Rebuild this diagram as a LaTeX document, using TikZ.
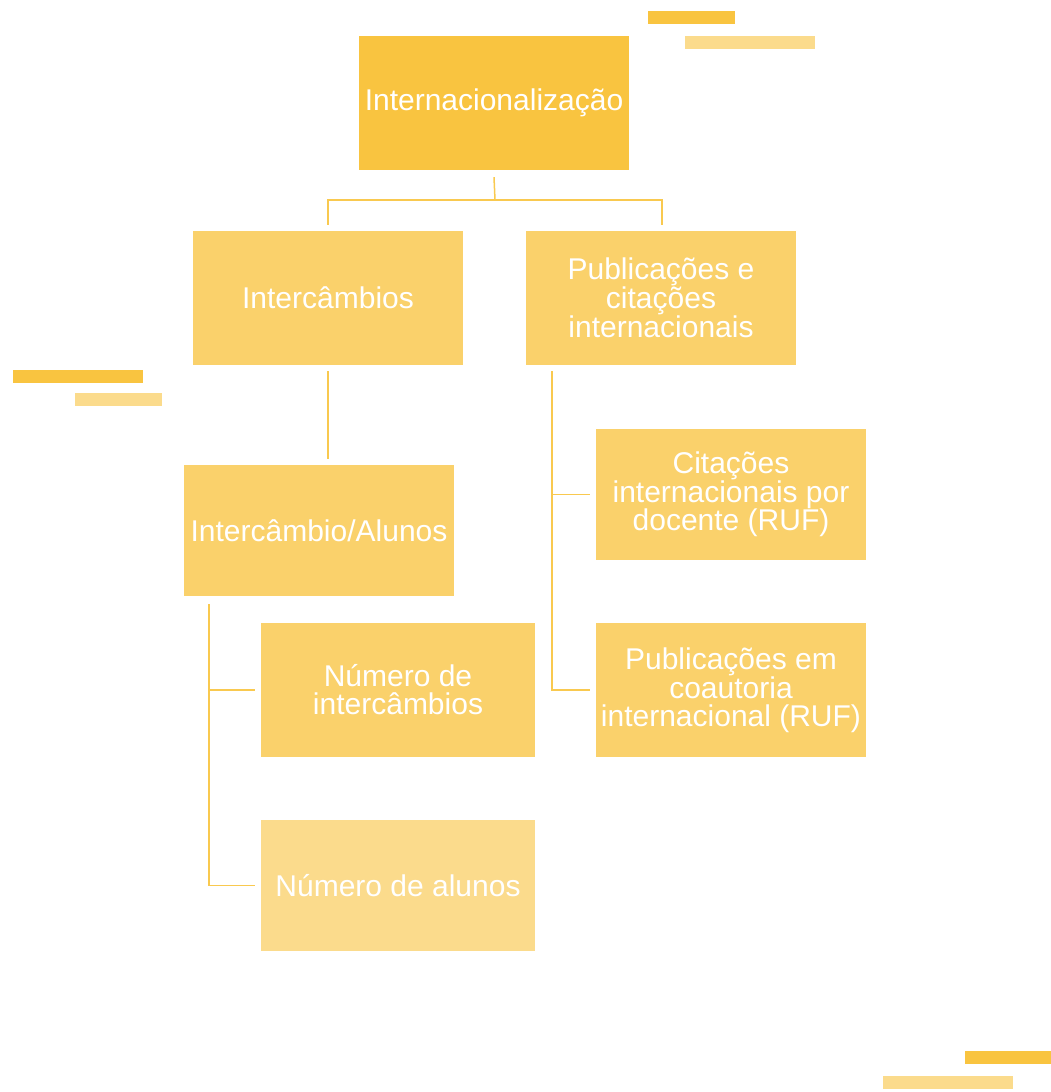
\documentclass[tikz,border=0pt]{standalone}
\usepackage{fontspec}
\setmainfont{Liberation Sans}
\definecolor{cRoot}{HTML}{F9C440}
\definecolor{cMid}{HTML}{FAD16B}
\definecolor{cLight}{HTML}{FBDB8C}
\definecolor{cLine}{HTML}{F9C94F}
\begin{document}
\begin{tikzpicture}[x=1pt,y=-1pt,
  box/.style={rectangle, inner sep=0pt, minimum width=270pt, minimum height=134pt,
    text=white, align=center, font=\fontsize{30}{28}\selectfont, fill=cMid},
  conn/.style={draw=cLine, line width=1.5pt},
  bardark/.style={fill=cRoot},
  barlight/.style={fill=cLight}]
\useasboundingbox (0,0) rectangle (1051,1092);
% decorative bars
\fill[bardark] (648,11) rectangle (735,24);
\fill[barlight] (685,36) rectangle (815,49);
\fill[bardark] (13,370) rectangle (143,383);
\fill[barlight] (75,393) rectangle (162,406);
\fill[bardark] (965,1051) rectangle (1051,1064);
\fill[barlight] (883,1076) rectangle (1013,1089);
% boxes
\node[box, fill=cRoot] (root) at (494,103) {Internacionaliza\c{c}\~ao};
\node[box] (a) at (328,298) {Interc\^ambios};
\node[box] (b) at (661,298) {Publica\c{c}\~oes e\\cita\c{c}\~oes\\internacionais};
\node[box, minimum height=131pt] (c) at (319,530.5) {Interc\^ambio/Alunos};
\node[box, minimum height=131pt] (d) at (731,494.5) {Cita\c{c}\~oes\\internacionais por\\docente (RUF)};
\node[box, minimum width=274pt] (f) at (398,690) {N\'umero de\\interc\^ambios};
\node[box] (e) at (731,690) {Publica\c{c}\~oes em\\coautoria\\internacional (RUF)};
\node[box, minimum width=274pt, minimum height=131pt, fill=cLight] (g) at (398,885.5) {N\'umero de alunos};
% connectors
\coordinate (j1) at (495,200);
\draw[conn] ([yshift=-7pt]root.south) -- (j1);
\draw[conn] ([yshift=6pt]a.north) |- (j1) -| ([yshift=6pt,xshift=1pt]b.north);
\draw[conn] ([yshift=-6pt]a.south) -- ([yshift=6pt]a.south |- c.north);
\coordinate (bv) at ([xshift=26pt,yshift=-6pt]b.south west);
\draw[conn] (bv) |- ([xshift=-6pt]e.west);
\draw[conn] (bv |- d.west) -- ([xshift=-6pt]d.west);
\coordinate (cv) at ([xshift=25pt,yshift=-8pt]c.south west);
\draw[conn] (cv) |- ([xshift=-6pt]g.west);
\draw[conn] (cv |- f.west) -- ([xshift=-6pt]f.west);
\end{tikzpicture}
\end{document}
